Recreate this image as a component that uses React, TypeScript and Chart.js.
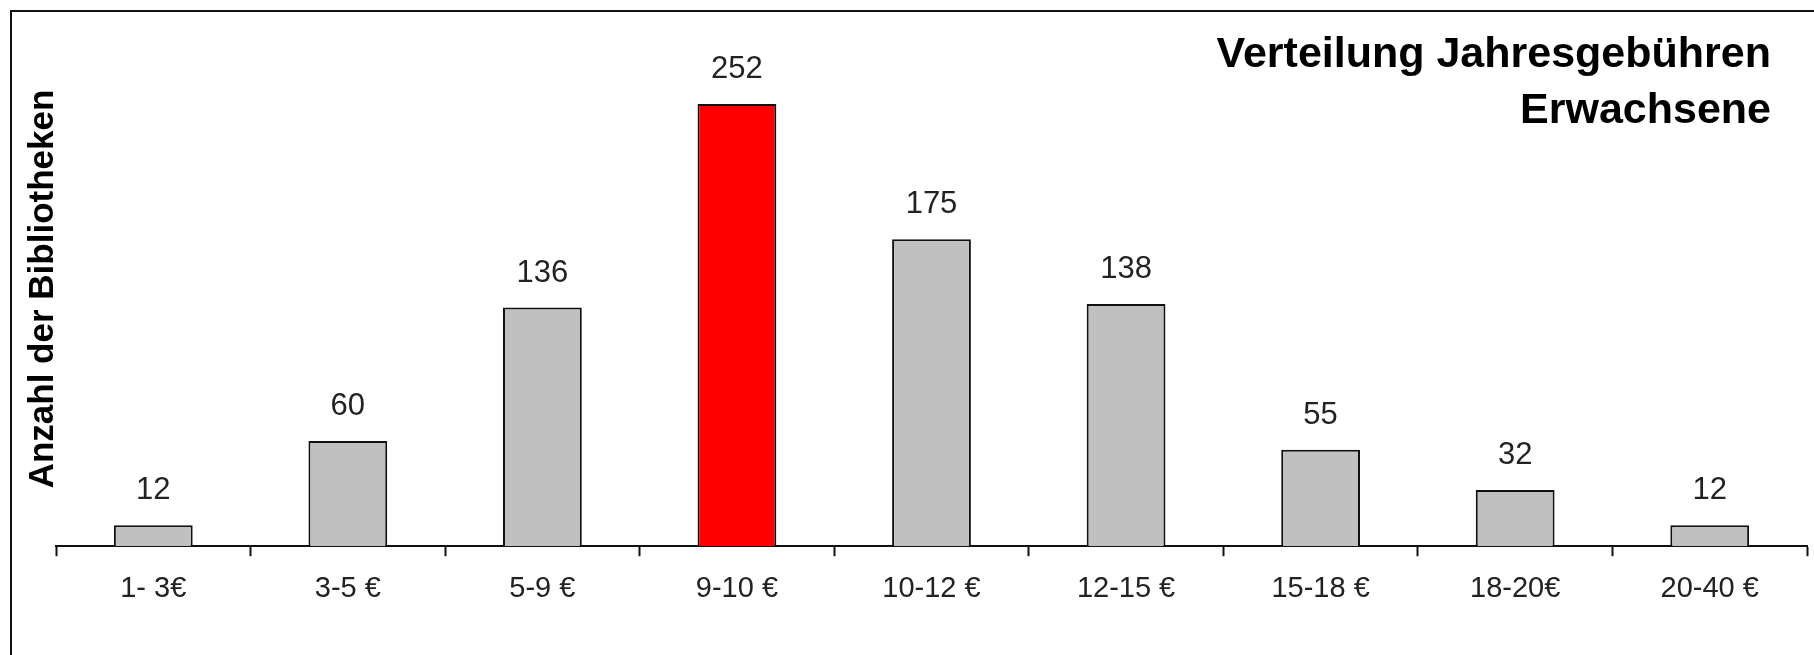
import React, { useEffect, useRef } from "react";
import { Chart, registerables } from "chart.js";

Chart.register(...registerables);

const categories: string[] = ["1- 3€", "3-5 €", "5-9 €", "9-10 €", "10-12 €", "12-15 €", "15-18 €", "18-20€", "20-40 €"];
const counts: number[] = [12, 60, 136, 252, 175, 138, 55, 32, 12];
const barColors: string[] = ["#C0C0C0", "#C0C0C0", "#C0C0C0", "#FF0000", "#C0C0C0", "#C0C0C0", "#C0C0C0", "#C0C0C0", "#C0C0C0"];
const titleLines: string[] = ["Verteilung Jahresgebühren", "Erwachsene"];
const yAxisTitle = "Anzahl der Bibliotheken";

const W = 1814;
const H = 655;
const FONT = "'Liberation Sans', Arial, sans-serif";

const decorPlugin = {
  id: "decor",
  beforeDraw(chart: any) {
    const ctx = chart.ctx;
    ctx.save();
    ctx.fillStyle = "#ffffff";
    ctx.fillRect(0, 0, W, H);
    ctx.strokeStyle = "#111111";
    ctx.lineWidth = 2;
    ctx.beginPath();
    ctx.moveTo(11, H + 2);
    ctx.lineTo(11, 11);
    ctx.lineTo(W + 2, 11);
    ctx.stroke();
    ctx.restore();
  },
  afterDraw(chart: any) {
    const ctx = chart.ctx;
    ctx.save();
    ctx.fillStyle = "#000000";
    ctx.font = `bold 43px ${FONT}`;
    ctx.textAlign = "right";
    ctx.textBaseline = "alphabetic";
    ctx.fillText(titleLines[0], 1771, 67);
    ctx.fillText(titleLines[1], 1771, 123);
    ctx.save();
    ctx.translate(53, 289);
    ctx.rotate(-Math.PI / 2);
    ctx.font = `bold 35px ${FONT}`;
    ctx.textAlign = "center";
    ctx.fillText(yAxisTitle, 0, 0);
    ctx.restore();
    const meta = chart.getDatasetMeta(0);
    ctx.font = `31px ${FONT}`;
    ctx.fillStyle = "#222222";
    ctx.textAlign = "center";
    ctx.textBaseline = "alphabetic";
    meta.data.forEach((bar: any, i: number) => {
      ctx.fillText(String(counts[i]), bar.x, bar.y - 26);
    });
    ctx.restore();
  },
};

export default function App() {
  const ref = useRef<HTMLCanvasElement | null>(null);
  useEffect(() => {
    if (!ref.current) return;
    const chart = new Chart(ref.current, {
      type: "bar",
      data: {
        labels: categories,
        datasets: [
          {
            data: counts,
            backgroundColor: barColors,
            borderColor: "#111111",
            borderWidth: 2,
            borderSkipped: "bottom",
            categoryPercentage: 1,
            barPercentage: 0.405,
          },
        ],
      },
      options: {
        responsive: false,
        animation: false,
        devicePixelRatio: 1,
        layout: { padding: { left: 56, right: 7, top: 55, bottom: 34 } },
        plugins: {
          legend: { display: false },
          title: { display: false },
          tooltip: { enabled: false },
        },
        scales: {
          x: {
            grid: {
              display: true,
              drawOnChartArea: false,
              drawTicks: true,
              tickLength: 10,
              tickWidth: 2,
              color: "#111111",
              offset: true,
            },
            border: { display: true, color: "#111111", width: 2 },
            ticks: {
              color: "#222222",
              font: { family: FONT, size: 29 },
              padding: 15,
              maxRotation: 0,
              autoSkip: false,
            },
          },
          y: {
            display: false,
            min: 0,
            max: 280,
          },
        },
      },
      plugins: [decorPlugin],
    });
    return () => chart.destroy();
  }, []);
  return (
    <div style={{ position: "absolute", left: 0, top: 0, width: W, height: H }}>
      <canvas ref={ref} width={W} height={H} style={{ display: "block", width: W, height: H }} />
    </div>
  );
}
